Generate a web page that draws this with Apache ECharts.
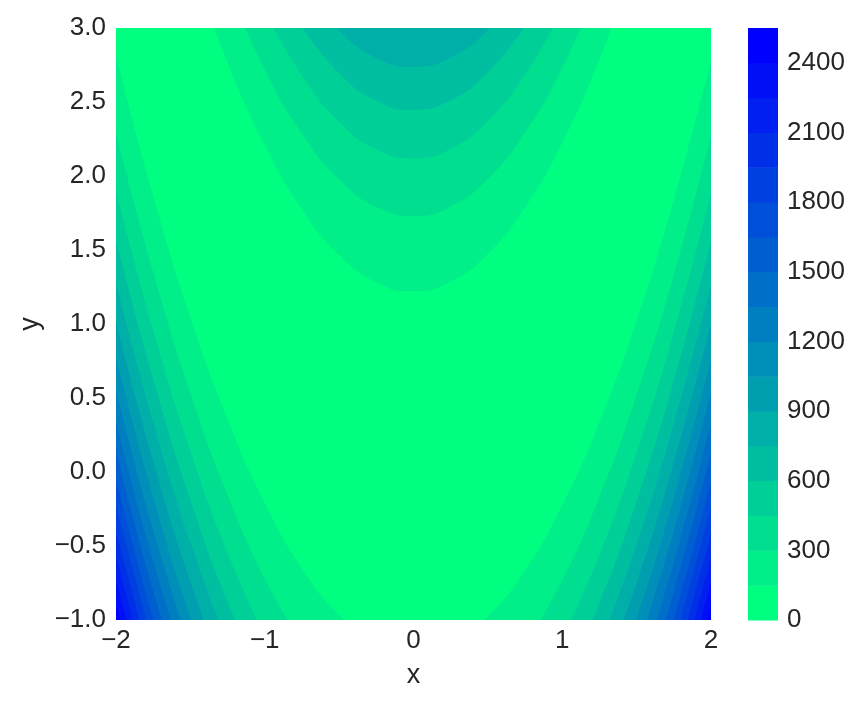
<!DOCTYPE html>
<html>
<head>
<meta charset="utf-8">
<script src="https://cdn.jsdelivr.net/npm/echarts@6/dist/echarts.min.js"></script>
<style>
  html, body { margin: 0; padding: 0; background: #fff; }
  #chart { width: 865px; height: 707px; }
</style>
</head>
<body>
<div id="chart"></div>
<script>
// contour levels (colorbar bounds)
const levels = [0, 150, 300, 450, 600, 750, 900, 1050, 1200, 1350, 1500, 1650, 1800, 1950, 2100, 2250, 2400, 2550];
const colorbarTicks = [0, 300, 600, 900, 1200, 1500, 1800, 2100, 2400];

// level curves: y of each boundary at the given x
// lower-left boundaries (levels 150 .. 2400)
const leftX = [-2, -1.75, -1.5, -1.25, -1, -0.75, -0.5, -0.25];
const leftY = [
  [2.813, 1.869, 1.051, 0.359, -0.208, -0.650, -0.966, -1.156],
  [2.294, 1.352, 0.536, -0.155, -0.720, -1.161],
  [1.900, 0.959, 0.143, -0.547, -1.112],
  [1.569, 0.628, -0.187, -0.877, -1.441],
  [1.278, 0.338, -0.477, -1.167],
  [1.015, 0.075, -0.740, -1.429],
  [0.774, -0.166, -0.981, -1.670],
  [0.549, -0.391, -1.205],
  [0.338, -0.601, -1.416],
  [0.139, -0.801, -1.615],
  [-0.051, -0.990, -1.804],
  [-0.232, -1.171],
  [-0.406, -1.345],
  [-0.573, -1.512],
  [-0.734, -1.673],
  [-0.890, -1.829]
];
// lower-right boundaries (levels 150 .. 2400)
const rightX = [2, 1.75, 1.5, 1.25, 1, 0.75, 0.5, 0.25];
const rightY = [
  [2.779, 1.840, 1.026, 0.338, -0.225, -0.662, -0.974, -1.160],
  [2.271, 1.332, 0.519, -0.169, -0.732, -1.169],
  [1.881, 0.943, 0.129, -0.559, -1.121],
  [1.553, 0.614, -0.199, -0.887, -1.449],
  [1.263, 0.325, -0.488, -1.176],
  [1.002, 0.063, -0.750, -1.437],
  [0.761, -0.177, -0.990, -1.678],
  [0.537, -0.401, -1.214],
  [0.327, -0.611, -1.424],
  [0.128, -0.810, -1.623],
  [-0.061, -0.999, -1.812],
  [-0.241, -1.179],
  [-0.415, -1.353],
  [-0.581, -1.519],
  [-0.742, -1.680],
  [-0.898, -1.836]
];
// upper (centre) boundaries (levels 150 .. 750)
const topX = [-1.5, -1.25, -1, -0.75, -0.5, -0.25, 0, 0.25, 0.5, 0.75, 1, 1.25, 1.5];
const topY = [
  [3.449, 2.766, 2.208, 1.774, 1.466, 1.281, 1.221, 1.285, 1.474, 1.787, 2.225, 2.787, 3.474],
  [null, 3.280, 2.720, 2.286, 1.976, 1.790, 1.729, 1.793, 1.981, 2.294, 2.732, 3.294, null],
  [null, null, 3.112, 2.677, 2.366, 2.180, 2.119, 2.183, 2.371, 2.684, 3.121, null, null],
  [null, null, null, 3.006, 2.695, 2.509, 2.447, 2.511, 2.699, 3.012, null, null, null],
  [null, null, null, 3.296, 2.985, 2.798, 2.737, 2.800, 2.988, 3.301, null, null, null]
];

// winter_r bands, lowest first
const bandColors = [
  '#00FF80', '#00EF88', '#00DF90', '#00CF98', '#00BFA0', '#00AFA8', '#009FB0', '#008FB8', '#007FC0',
  '#006FC8', '#005FD0', '#004FD8', '#003FE0', '#002FE8', '#001FF0', '#000FF8', '#0000FF'
];

const textColor = '#262626';
const fontFamily = '"Liberation Sans", Arial, Helvetica, sans-serif';
const minus = (v) => String(v).replace('-', '\u2212');

function areaLine(xs, ys, band, origin) {
  const data = xs.slice(0, ys.length)
    .map((x, i) => [x, ys[i]])
    .filter((p) => p[1] !== null && p[1] !== undefined);
  return {
    type: 'line',
    xAxisIndex: 0,
    yAxisIndex: 0,
    data: data,
    smooth: 0.5,
    symbol: 'none',
    silent: true,
    clip: true,
    lineStyle: { width: 0, color: bandColors[band] },
    areaStyle: { color: bandColors[band], opacity: 1, origin: origin },
  };
}

const series = [];
leftY.forEach((ys, k) => series.push(areaLine(leftX, ys, k + 1, 'start')));
rightY.forEach((ys, k) => series.push(areaLine(rightX, ys, k + 1, 'start')));
topY.forEach((ys, k) => series.push(areaLine(topX, ys, k + 1, 'end')));

// colorbar
series.push({
  type: 'custom',
  xAxisIndex: 1,
  yAxisIndex: 1,
  silent: true,
  data: levels.slice(0, -1).map((lo, i) => [i, lo, levels[i + 1]]),
  renderItem: function (params, api) {
    const i = api.value(0);
    const p1 = api.coord([0, api.value(2)]);
    const p2 = api.coord([1, api.value(1)]);
    return {
      type: 'rect',
      shape: { x: p1[0], y: p1[1], width: p2[0] - p1[0], height: p2[1] - p1[1] + 0.5 },
      style: { fill: bandColors[i] },
    };
  },
});

const chart = echarts.init(document.getElementById('chart'));
chart.setOption({
  animation: false,
  backgroundColor: '#ffffff',
  textStyle: { fontFamily: fontFamily },
  grid: [
    { left: 116, top: 28, width: 595, height: 592, show: true, backgroundColor: bandColors[0], borderWidth: 0 },
    { left: 748, top: 28, width: 30, height: 592 },
  ],
  xAxis: [
    {
      type: 'value', gridIndex: 0, min: -2, max: 2, interval: 1,
      name: 'x', nameLocation: 'middle', nameGap: 42,
      nameTextStyle: { fontSize: 27, color: textColor, fontFamily: fontFamily },
      axisLine: { show: false }, axisTick: { show: false }, splitLine: { show: false },
      axisLabel: { fontSize: 26, color: textColor, margin: 8, fontFamily: fontFamily, formatter: (v) => minus(v) },
    },
    {
      type: 'value', gridIndex: 1, min: 0, max: 1, show: false,
    },
  ],
  yAxis: [
    {
      type: 'value', gridIndex: 0, min: -1, max: 3, interval: 0.5,
      name: 'y', nameLocation: 'middle', nameGap: 69,
      nameTextStyle: { fontSize: 27, color: textColor, fontFamily: fontFamily },
      axisLine: { show: false }, axisTick: { show: false }, splitLine: { show: false },
      axisLabel: {
        fontSize: 26, color: textColor, margin: 10, fontFamily: fontFamily, padding: [9, 0, 0, 0],
        formatter: (v) => minus(v.toFixed(1)),
      },
    },
    {
      type: 'value', gridIndex: 1, min: levels[0], max: levels[levels.length - 1], interval: 300,
      position: 'right',
      axisLine: { show: false }, axisTick: { show: false }, splitLine: { show: false },
      axisLabel: {
        fontSize: 26, color: textColor, margin: 9, fontFamily: fontFamily, showMaxLabel: false, padding: [9, 0, 0, 0],
        formatter: (v) => (colorbarTicks.indexOf(v) >= 0 ? String(v) : ''),
      },
    },
  ],
  series: series,
});
</script>
</body>
</html>
